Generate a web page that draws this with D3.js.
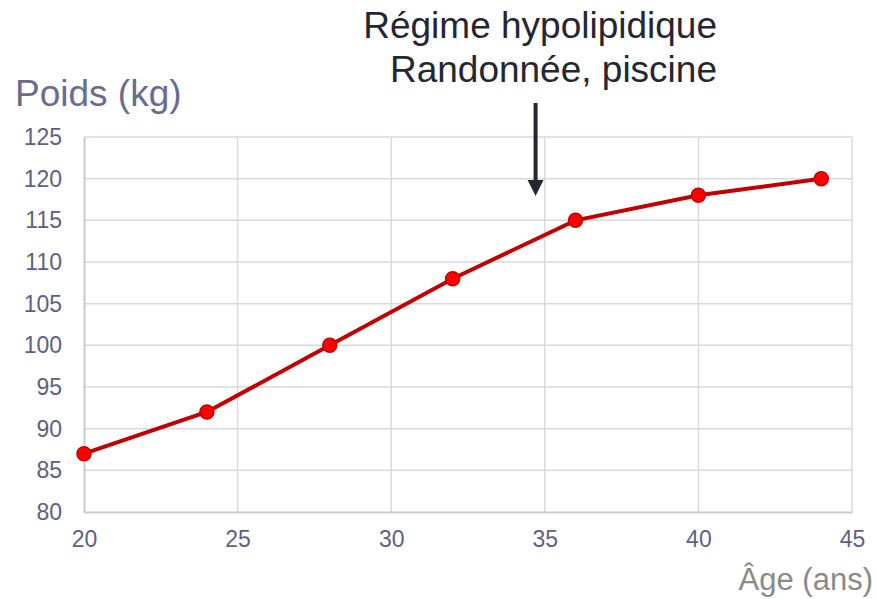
<!DOCTYPE html>
<html>
<head>
<meta charset="utf-8">
<script src="https://cdn.jsdelivr.net/npm/d3@7"></script>
<style>
  body { margin: 0; background: #fff; }
  svg { display: block; font-family: "Liberation Sans", Arial, sans-serif; }
</style>
</head>
<body>
<div id="chart"></div>
<script>
// data
const ages = [20, 24, 28, 32, 36, 40, 44];
const poids = [87, 92, 100, 108, 115, 118, 120];
const xTicks = [20, 25, 30, 35, 40, 45];
const yTicks = [80, 85, 90, 95, 100, 105, 110, 115, 120, 125];
const annotation = ["Régime hypolipidique", "Randonnée, piscine"];
const arrowAge = 34.7;

const width = 877, height = 599;
const margin = {top: 137, right: 25, bottom: 87, left: 84};

const x = d3.scaleLinear().domain([20, 45]).range([margin.left, width - margin.right]);
const y = d3.scaleLinear().domain([80, 125]).range([height - margin.bottom, margin.top]);

const svg = d3.select("#chart")
    .append("svg")
    .attr("width", width)
    .attr("height", height);

// grid
svg.append("g")
    .selectAll("line.h")
    .data(yTicks.slice(1))
    .join("line")
    .attr("x1", x(20)).attr("x2", x(45))
    .attr("y1", d => y(d)).attr("y2", d => y(d))
    .attr("stroke", "#d9d9e1").attr("stroke-width", 1.5);

svg.append("g")
    .selectAll("line.v")
    .data(xTicks.slice(1))
    .join("line")
    .attr("x1", d => x(d)).attr("x2", d => x(d))
    .attr("y1", y(80)).attr("y2", y(125))
    .attr("stroke", "#d9d9e1").attr("stroke-width", 1.5);

// axes
const xAxis = svg.append("g")
    .attr("transform", `translate(0, ${y(80)})`)
    .call(d3.axisBottom(x).tickValues(xTicks).tickSize(0).tickPadding(19));
const yAxis = svg.append("g")
    .attr("transform", `translate(${x(20)}, 0)`)
    .call(d3.axisLeft(y).tickValues(yTicks).tickSize(0).tickPadding(22));

[xAxis, yAxis].forEach(g => {
    g.attr("font-size", null).attr("font-family", null);
    g.select(".domain").attr("stroke", "#c9c9d5").attr("stroke-width", 2);
    g.selectAll("text")
        .attr("fill", "#5f5f80")
        .style("font-size", "23px");
});

// line + markers
const line = d3.line()
    .x((d, i) => x(ages[i]))
    .y(d => y(d));

svg.append("path")
    .datum(poids)
    .attr("fill", "none")
    .attr("stroke", "#c00000")
    .attr("stroke-width", 4)
    .attr("d", line);

svg.append("g")
    .selectAll("circle")
    .data(poids)
    .join("circle")
    .attr("cx", (d, i) => x(ages[i]))
    .attr("cy", d => y(d))
    .attr("r", 7)
    .attr("fill", "#ff0000")
    .attr("stroke", "#c00000")
    .attr("stroke-width", 1.5);

// axis titles
svg.append("text")
    .attr("x", 15).attr("y", 106)
    .attr("fill", "#6b6b8c")
    .style("font-size", "37px")
    .text("Poids (kg)");

svg.append("text")
    .attr("x", 873).attr("y", 590)
    .attr("text-anchor", "end")
    .attr("fill", "#8a8a8a")
    .style("font-size", "31px")
    .text("Âge (ans)");

// annotation
svg.append("text")
    .attr("text-anchor", "end")
    .attr("fill", "#262630")
    .style("font-size", "37px")
    .selectAll("tspan")
    .data(annotation)
    .join("tspan")
    .attr("x", 717)
    .attr("y", (d, i) => 38 + i * 44)
    .text(d => d);

const ax = x(arrowAge);
svg.append("line")
    .attr("x1", ax).attr("x2", ax)
    .attr("y1", 103).attr("y2", 182)
    .attr("stroke", "#262630").attr("stroke-width", 4);
svg.append("path")
    .attr("d", `M${ax - 8},180 L${ax + 8},180 L${ax},196 Z`)
    .attr("fill", "#262630");
</script>
</body>
</html>
